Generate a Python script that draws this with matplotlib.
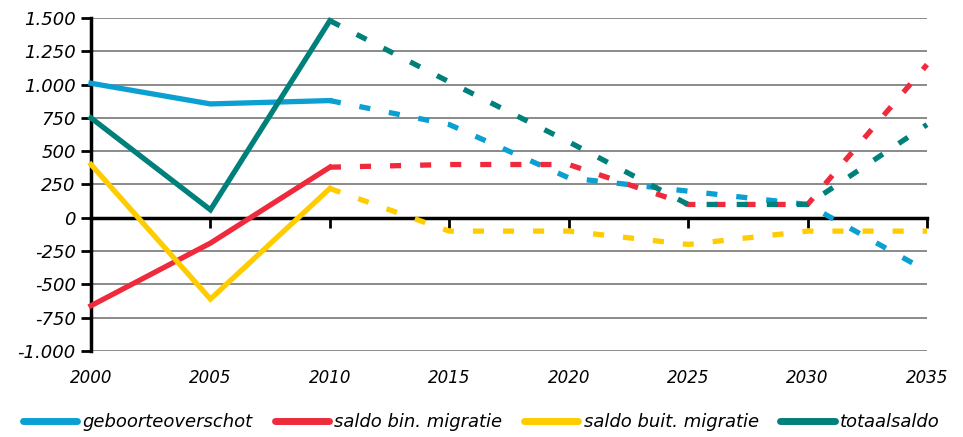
import matplotlib
matplotlib.use("Agg")
from matplotlib import pyplot as plt

# historic (solid) and projected (dashed) values
years_hist = [2000, 2005, 2010]
years_proj = [2010, 2015, 2020, 2025, 2030, 2035]

geboorte_hist = [1010, 855, 880]
geboorte_proj = [880, 700, 300, 200, 100, -400]

binnen_hist = [-660, -190, 380]
binnen_proj = [380, 400, 400, 100, 100, 1150]

buiten_hist = [400, -610, 220]
buiten_proj = [220, -100, -100, -200, -100, -100]

totaal_hist = [750, 60, 1480]
totaal_proj = [1480, 1020, 570, 100, 100, 700]

labels = ["geboorteoverschot", "saldo bin. migratie", "saldo buit. migratie", "totaalsaldo"]
colors = ["#0AA0D2", "#EE2A3C", "#FFCC00", "#00807A"]

yticks = [-1000, -750, -500, -250, 0, 250, 500, 750, 1000, 1250, 1500]
xticks = [2000, 2005, 2010, 2015, 2020, 2025, 2030, 2035]

def fmt(v):
    return "{:,}".format(v).replace(",", ".")

fig = plt.figure(figsize=(9.63, 4.37), dpi=100)
ax = fig.add_axes([91/963, 1-351/437, (927-91)/963, (351-18)/437])

series = [(geboorte_hist, geboorte_proj), (binnen_hist, binnen_proj),
          (buiten_hist, buiten_proj), (totaal_hist, totaal_proj)]
for (h, p), c, lab in zip(series, colors, labels):
    ax.plot(years_hist, h, color=c, lw=3.8, label=lab, zorder=3, clip_on=False,
            solid_joinstyle="miter")
    ax.plot(years_proj, p, color=c, lw=3.8, ls=(0, (2.1, 3.6)), zorder=3,
            clip_on=False, dash_capstyle="butt")

ax.set_xlim(2000, 2035)
ax.set_ylim(-1000, 1500)
ax.set_yticks(yticks)
ax.set_yticklabels([fmt(v) for v in yticks], fontsize=13, style="italic")
for v in yticks:
    if v != 0:
        ax.axhline(v, color="#777777", lw=1.2, zorder=1)

for s in ["top", "right"]:
    ax.spines[s].set_visible(False)
ax.spines["left"].set_linewidth(2.5)
ax.spines["bottom"].set_position(("data", 0))
ax.spines["bottom"].set_linewidth(2.5)
ax.spines["bottom"].set_zorder(2)
ax.set_xticks(xticks)
ax.tick_params(axis="x", direction="out", length=7, width=2, labelbottom=False)
ax.tick_params(axis="y", direction="out", length=7, width=2, pad=4)

sec = ax.secondary_xaxis("bottom")
sec.set_xticks(xticks)
sec.set_xticklabels([str(v) for v in xticks], fontsize=12, style="italic")
sec.tick_params(length=0, pad=13)
sec.spines["bottom"].set_visible(False)

leg = fig.legend(loc="center", bbox_to_anchor=(0.5, 1-422/437), ncol=4,
                 frameon=False, handlelength=3.0, handletextpad=0.3,
                 columnspacing=1.2, prop={"size": 13, "style": "italic"})
for ln in leg.get_lines():
    ln.set_solid_capstyle("round")
    ln.set_linewidth(5)

fig.savefig("out.png", dpi=100)
